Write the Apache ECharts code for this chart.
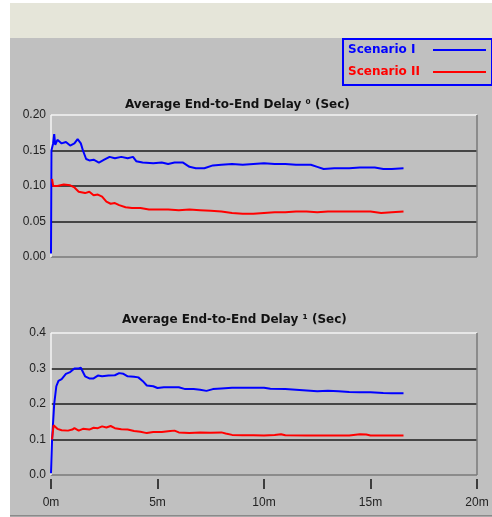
<!DOCTYPE html>
<html>
<head>
<meta charset="utf-8">
<script src="https://cdn.jsdelivr.net/npm/echarts@6/dist/echarts.min.js"></script>
<style>
html, body { margin: 0; padding: 0; background: #fff; }
#chart { width: 492px; height: 517px; }
</style>
</head>
<body>
<div id="chart"></div>
<script>
// x: minutes, y: seconds
const delay0ScenarioI = [
	[0, 0.005], [0.02, 0.15], [0.1, 0.16], [0.15, 0.173], [0.2, 0.158], [0.3, 0.165],
	[0.5, 0.16], [0.7, 0.162], [0.9, 0.157], [1.1, 0.16], [1.25, 0.166], [1.4, 0.16],
	[1.5, 0.15], [1.65, 0.138], [1.8, 0.136], [2.0, 0.137], [2.25, 0.133], [2.5, 0.137],
	[2.75, 0.141], [3.0, 0.139], [3.3, 0.141], [3.6, 0.139], [3.85, 0.141], [4.0, 0.135],
	[4.3, 0.133], [4.8, 0.132], [5.2, 0.133], [5.5, 0.131], [5.8, 0.133], [6.2, 0.133],
	[6.5, 0.127], [6.8, 0.125], [7.2, 0.125], [7.6, 0.129], [8.0, 0.13], [8.5, 0.131],
	[9.0, 0.13], [9.5, 0.131], [10.0, 0.132], [10.5, 0.131], [11.0, 0.131], [11.5, 0.13],
	[12.2, 0.13], [12.5, 0.127], [12.8, 0.124], [13.3, 0.125], [14.0, 0.125], [14.5, 0.126],
	[15.2, 0.126], [15.6, 0.124], [16.0, 0.124], [16.55, 0.125]
];
const delay0ScenarioII = [
	[0.05, 0.11], [0.1, 0.1], [0.3, 0.1], [0.6, 0.102], [0.9, 0.101], [1.1, 0.098],
	[1.3, 0.092], [1.6, 0.09], [1.8, 0.092], [2.0, 0.087], [2.2, 0.088], [2.4, 0.085],
	[2.6, 0.078], [2.8, 0.075], [3.0, 0.076], [3.2, 0.073], [3.5, 0.07], [3.8, 0.069],
	[4.2, 0.069], [4.6, 0.067], [5.0, 0.067], [5.5, 0.067], [6.0, 0.066], [6.5, 0.067],
	[7.0, 0.066], [7.5, 0.065], [8.0, 0.064], [8.5, 0.062], [9.0, 0.061], [9.5, 0.061],
	[10.0, 0.062], [10.5, 0.063], [11.0, 0.063], [11.5, 0.064], [12.0, 0.064], [12.5, 0.063],
	[13.0, 0.064], [14.0, 0.064], [15.0, 0.064], [15.5, 0.062], [16.0, 0.063], [16.55, 0.064]
];
const delay1ScenarioI = [
	[0, 0.005], [0.05, 0.1], [0.15, 0.2], [0.25, 0.25], [0.35, 0.265], [0.5, 0.27],
	[0.7, 0.285], [0.9, 0.29], [1.0, 0.295], [1.1, 0.3], [1.3, 0.3], [1.4, 0.302],
	[1.5, 0.29], [1.6, 0.278], [1.8, 0.272], [2.0, 0.272], [2.2, 0.28], [2.4, 0.278],
	[2.7, 0.28], [3.0, 0.281], [3.2, 0.287], [3.4, 0.285], [3.6, 0.278], [3.9, 0.277],
	[4.1, 0.275], [4.3, 0.265], [4.5, 0.252], [4.8, 0.25], [5.0, 0.245], [5.3, 0.247],
	[5.7, 0.247], [6.0, 0.247], [6.3, 0.242], [6.7, 0.242], [7.0, 0.24], [7.3, 0.237],
	[7.6, 0.242], [8.0, 0.244], [8.5, 0.246], [9.0, 0.246], [9.6, 0.246], [10.0, 0.246],
	[10.3, 0.243], [11.0, 0.242], [11.5, 0.24], [12.0, 0.238], [12.5, 0.236], [13.0, 0.237],
	[13.5, 0.236], [14.0, 0.234], [14.5, 0.233], [15.0, 0.233], [15.6, 0.231], [16.0, 0.23],
	[16.55, 0.23]
];
const delay1ScenarioII = [
	[0.05, 0.1], [0.12, 0.14], [0.3, 0.13], [0.5, 0.126], [0.8, 0.125], [1.0, 0.128],
	[1.1, 0.132], [1.3, 0.125], [1.5, 0.13], [1.8, 0.128], [2.0, 0.133], [2.2, 0.132],
	[2.4, 0.137], [2.6, 0.134], [2.8, 0.138], [3.0, 0.132], [3.3, 0.129], [3.6, 0.128],
	[3.9, 0.124], [4.2, 0.122], [4.5, 0.118], [4.8, 0.121], [5.2, 0.121], [5.6, 0.124],
	[5.8, 0.125], [6.0, 0.12], [6.5, 0.118], [7.0, 0.12], [7.5, 0.119], [8.0, 0.12],
	[8.2, 0.117], [8.5, 0.113], [9.0, 0.112], [9.5, 0.112], [10.0, 0.111], [10.5, 0.113],
	[10.8, 0.115], [11.0, 0.112], [12.0, 0.111], [13.0, 0.111], [14.0, 0.111], [14.5, 0.115],
	[14.8, 0.114], [15.0, 0.111], [16.0, 0.111], [16.55, 0.111]
];
const seriesNames = ["Scenario I", "Scenario II"];
const seriesColors = ["#0000ff", "#ff0000"];
const chartTitles = ["Average End-to-End Delay \u2070 (Sec)", "Average End-to-End Delay \u00b9 (Sec)"];

const FONT = "Liberation Sans, Arial, sans-serif";
const BOLD_FONT = "DejaVu Sans, Liberation Sans, sans-serif";
const chart = echarts.init(document.getElementById("chart"));

// frame: bottom dark, grid black, top white (one colour per split line)
const ySplitColors = ["#7a7a7a", "#1c1c1c", "#1c1c1c", "#1c1c1c", "#f4f4f4"];
const xSplitColors = ["#f4f4f4", "transparent", "transparent", "transparent", "#7a7a7a"];

function makeX(gridIndex, showLabels) {
	return {
		type: "value",
		gridIndex: gridIndex,
		min: 0,
		max: 20,
		interval: 5,
		axisLine: { show: false },
		axisTick: { show: false },
		axisLabel: {
			show: showLabels,
			margin: 22,
			color: "#222",
			fontFamily: FONT,
			fontSize: 12,
			formatter: (v) => v + "m",
		},
		splitLine: { show: true, lineStyle: { color: xSplitColors, width: 1.5 } },
	};
}

// separate axis only for the tick marks hanging below the lower plot
function makeTickX(gridIndex) {
	return {
		type: "value",
		gridIndex: gridIndex,
		position: "bottom",
		min: 0,
		max: 20,
		interval: 5,
		offset: 4,
		axisLine: { show: false },
		axisLabel: { show: false },
		splitLine: { show: false },
		axisTick: { show: true, inside: false, length: 10, lineStyle: { color: "#111", width: 1.5 } },
	};
}

function makeY(gridIndex, max, interval, digits) {
	return {
		type: "value",
		gridIndex: gridIndex,
		min: 0,
		max: max,
		interval: interval,
		axisLine: { show: false },
		axisTick: { show: false },
		axisLabel: {
			margin: 5,
			color: "#222",
			fontFamily: FONT,
			fontSize: 12,
			formatter: (v) => v.toFixed(digits),
		},
		splitLine: { show: true, lineStyle: { color: ySplitColors, width: 1.5 } },
	};
}

function makeLine(name, data, idx, color) {
	return {
		name: name,
		type: "line",
		xAxisIndex: idx,
		yAxisIndex: idx,
		data: data,
		showSymbol: false,
		symbol: "none",
		animation: false,
		lineStyle: { color: color, width: 2 },
		itemStyle: { color: color },
	};
}

const option = {
	backgroundColor: "#ffffff",
	animation: false,
	graphic: [
		{ type: "rect", z: -10, shape: { x: 10, y: 3, width: 482, height: 35 }, style: { fill: "#e5e5d9" } },
		{ type: "rect", z: -10, shape: { x: 10, y: 38, width: 482, height: 478 }, style: { fill: "#c0c0c0" } },
		{ type: "line", z: -9, shape: { x1: 10, y1: 516, x2: 492, y2: 516 }, style: { stroke: "#555", lineWidth: 1 } },
	],
	title: [
		{
			text: chartTitles[0],
			left: 125,
			top: 99,
			padding: 0,
			textStyle: { fontFamily: BOLD_FONT, fontSize: 12, fontWeight: "bold", color: "#111" },
		},
		{
			text: chartTitles[1],
			left: 122,
			top: 314,
			padding: 0,
			textStyle: { fontFamily: BOLD_FONT, fontSize: 12, fontWeight: "bold", color: "#111" },
		},
	],
	legend: {
		orient: "vertical",
		left: 343,
		top: 39,
		align: "right",
		padding: [5, 6, 7, 5],
		itemGap: 10,
		itemWidth: 53,
		itemHeight: 2,
		icon: "rect",
		borderColor: "#0000ff",
		borderWidth: 2,
		data: [
			{ name: seriesNames[0] },
			{ name: seriesNames[1] },
		],
		formatter: (name) => (name === seriesNames[0] ? "{a|" + name + "}" : "{b|" + name + "}"),
		textStyle: {
			fontFamily: BOLD_FONT,
			fontSize: 12,
			fontWeight: "bold",
			rich: {
				a: { width: 80, align: "left", color: seriesColors[0], fontFamily: BOLD_FONT, fontSize: 12, fontWeight: "bold" },
				b: { width: 80, align: "left", color: seriesColors[1], fontFamily: BOLD_FONT, fontSize: 12, fontWeight: "bold" },
			},
		},
	},
	grid: [
		{ left: 51, top: 115, width: 426, height: 142 },
		{ left: 51, top: 333, width: 426, height: 142 },
	],
	xAxis: [makeX(0, false), makeX(1, true), makeTickX(1)],
	yAxis: [makeY(0, 0.2, 0.05, 2), makeY(1, 0.4, 0.1, 1)],
	series: [
		makeLine(seriesNames[0], delay0ScenarioI, 0, seriesColors[0]),
		makeLine(seriesNames[1], delay0ScenarioII, 0, seriesColors[1]),
		makeLine(seriesNames[0], delay1ScenarioI, 1, seriesColors[0]),
		makeLine(seriesNames[1], delay1ScenarioII, 1, seriesColors[1]),
	],
};
chart.setOption(option);
</script>
</body>
</html>
